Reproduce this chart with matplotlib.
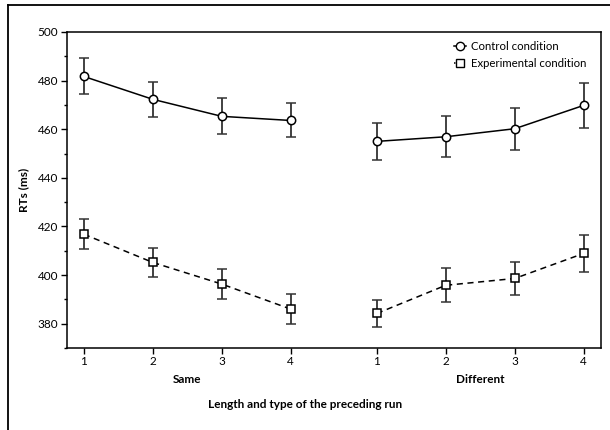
import matplotlib.pyplot as plt
from matplotlib.lines import Line2D
import numpy as np

plt.rcParams['font.family'] = ['Lato', 'DejaVu Sans']

# positions of the run lengths, "Same" group then "Different" group
run_labels = ['1', '2', '3', '4', '1', '2', '3', '4']
positions = [1, 2, 3, 4, 5.25, 6.25, 7.25, 8.25]
group_names = ['Same', 'Different']

control_mean = [481.7, 472.3, 465.3, 463.6, 455.0, 456.9, 460.2, 469.8]
control_err = [7.4, 7.3, 7.4, 7.0, 7.6, 8.4, 8.6, 9.4]
experimental_mean = [416.8, 405.2, 396.3, 386.0, 384.2, 395.8, 398.6, 408.9]
experimental_err = [6.1, 6.0, 6.3, 6.2, 5.6, 7.0, 6.7, 7.5]

fig = plt.figure(figsize=(6.1, 4.3), dpi=100)
ax = fig.add_axes([0.1093, 0.1907, 0.8757, 0.7349])

# outer frame: only left and top edges are visible in the picture
fx, fy = 8 / 610, 1 - 5 / 430
fig.add_artist(Line2D([fx, fx], [0, fy], transform=fig.transFigure, color='black', linewidth=1.3))
fig.add_artist(Line2D([fx, 1], [fy, fy], transform=fig.transFigure, color='black', linewidth=1.3))

for start, stop in [(0, 4), (4, 8)]:
    x = positions[start:stop]
    ax.errorbar(x, control_mean[start:stop], yerr=control_err[start:stop],
                color='black', ecolor='#333333', elinewidth=1.3, capsize=3.5, capthick=1.3,
                marker='o', markersize=6, markerfacecolor='white', markeredgecolor='black',
                markeredgewidth=1.1, linewidth=1.1, zorder=3)
    ax.errorbar(x, experimental_mean[start:stop], yerr=experimental_err[start:stop],
                color='black', ecolor='#333333', elinewidth=1.3, capsize=3.5, capthick=1.3,
                marker='s', markersize=6, markerfacecolor='white', markeredgecolor='black',
                markeredgewidth=1.1, linewidth=1.1, linestyle=(0, (4, 3)), zorder=3)

ax.set_xlim(0.75, 8.5)
ax.set_ylim(370, 500)
ax.set_xticks(positions)
ax.set_xticklabels(run_labels)
ax.set_yticks(np.arange(380, 501, 20))
ax.set_yticks(np.arange(370, 501, 10), minor=True)
ax.tick_params(axis='both', which='major', length=4, width=1, labelsize=8.5, pad=2)
ax.tick_params(axis='y', which='minor', length=2.5, width=1)
for s in ax.spines.values():
    s.set_linewidth(1.1)

ax.set_ylabel('RTs (ms)', fontsize=8.5, fontweight='bold', labelpad=6)

# group labels and overall x label
ax.text(2.5, -0.1, group_names[0], transform=ax.get_xaxis_transform(),
        ha='center', va='center', fontsize=8.5, fontweight='bold')
ax.text(6.75, -0.1, group_names[1], transform=ax.get_xaxis_transform(),
        ha='center', va='center', fontsize=8.5, fontweight='bold')
fig.text(305 / 610, 1 - 404 / 430, 'Length and type of the preceding run',
         ha='center', va='center', fontsize=8.5, fontweight='bold')

handles = [
    Line2D([], [], color='black', marker='o', markersize=6, markerfacecolor='white',
           linewidth=1.1),
    Line2D([], [], color='black', marker='s', markersize=6, markerfacecolor='white',
           linewidth=1.1, linestyle=(0, (1, 2))),
]
ax.legend(handles, ['Control condition', 'Experimental condition'], loc='upper right',
          frameon=False, fontsize=8.2, handlelength=1.1, handletextpad=0.4,
          labelspacing=0.5, borderaxespad=0.4, bbox_to_anchor=(0.99, 1.0))

fig.savefig('out.png', dpi=100)
